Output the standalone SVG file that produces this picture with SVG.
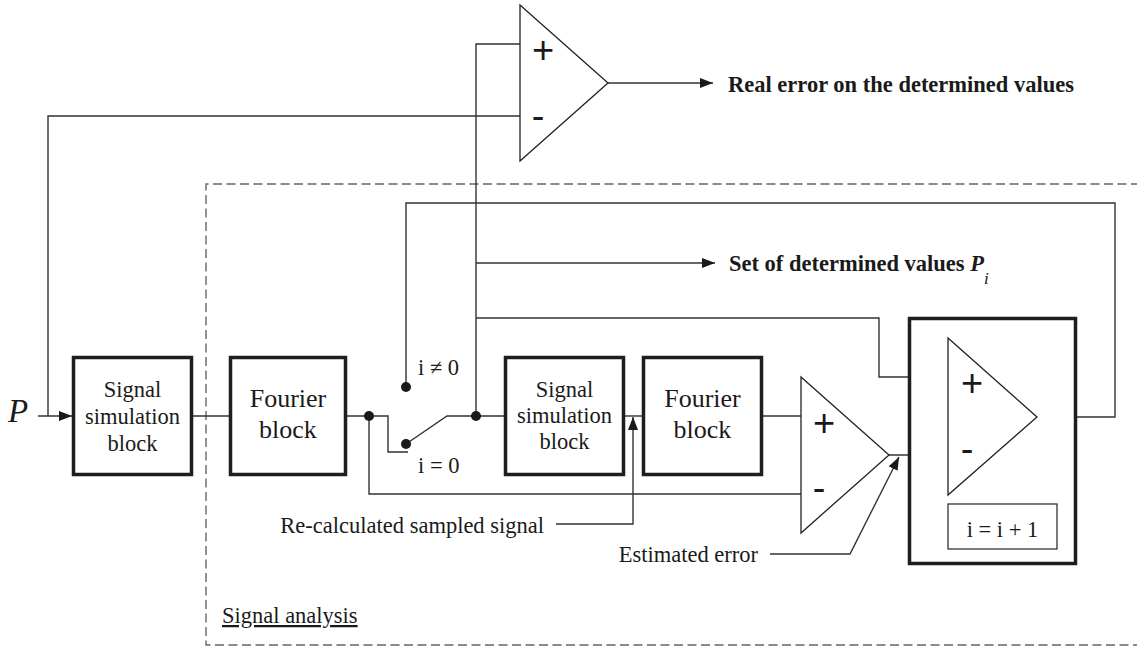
<svg xmlns="http://www.w3.org/2000/svg" width="1137" height="648" viewBox="0 0 1137 648">
<style>
  .ln{fill:none;stroke:#333;stroke-width:1.4}
  .blk{fill:#fff;stroke:#1e1e1e;stroke-width:3.5}
  .tri{fill:#fff;stroke:#222;stroke-width:1.3}
  .dash{fill:none;stroke:#666;stroke-width:1.4;stroke-dasharray:9 4.5}
  .t{font-family:"Liberation Serif","Times New Roman",serif;font-size:22.5px;fill:#1a1a1a}
  .c{text-anchor:middle}
  .b{font-weight:bold}
  .f{font-size:26px}
  .pm{font-family:"Liberation Sans",Arial,sans-serif;font-size:38px;fill:#1a1a1a;text-anchor:middle}
  .dot{fill:#1a1a1a}
</style>
<defs>
  <marker id="ah" markerUnits="userSpaceOnUse" markerWidth="13" markerHeight="10" refX="13" refY="5" orient="auto">
    <path d="M0,0 L13,5 L0,10 z" fill="#1a1a1a"/>
  </marker>
</defs>
<rect width="1137" height="648" fill="#fff"/>

<g id="signal-analysis-frame">
  <path class="dash" d="M1140,184 H206 V645 H1140"/>
  <text class="t" x="222" y="623" text-decoration="underline">Signal analysis</text>
</g>

<g id="connectors">
  <path class="ln" d="M48,416 V116 H520"/>
  <path class="ln" d="M38,416 H72" marker-end="url(#ah)"/>
  <path class="ln" d="M191,416 H230"/>
  <path class="ln" d="M346,416 H388 V452 H408"/>
  <path class="ln" d="M406,444 L447,416 H505"/>
  <path class="ln" d="M369,416 V494 H801"/>
  <path class="ln" d="M476,416 V44 H520"/>
  <path class="ln" d="M476,263 H715" marker-end="url(#ah)"/>
  <path class="ln" d="M476,318 H879 V377 H948"/>
  <path class="ln" d="M406,387 V203 H1115 V417 H1037"/>
  <path class="ln" d="M608,83 H713" marker-end="url(#ah)"/>
  <path class="ln" d="M624,416 H643"/>
  <path class="ln" d="M762,416 H801"/>
  <path class="ln" d="M889,455 H948"/>
  <path class="ln" d="M556,524 H633 V417" marker-end="url(#ah)"/>
  <path class="ln" d="M770,554 H850 L899,457" marker-end="url(#ah)"/>
  <circle class="dot" cx="369" cy="416" r="5"/>
  <circle class="dot" cx="476" cy="416" r="5"/>
  <circle class="dot" cx="406" cy="387" r="5"/>
  <circle class="dot" cx="406" cy="444" r="5"/>
</g>

<g id="input-P">
  <text class="t" x="8" y="422" font-style="italic" style="font-size:33px">P</text>
</g>

<g id="signal-sim-1">
  <rect class="blk" x="73.5" y="357.5" width="118" height="117"/>
  <text class="t c" x="132.5" y="397">Signal</text>
  <text class="t c" x="132.5" y="424">simulation</text>
  <text class="t c" x="132.5" y="451">block</text>
</g>

<g id="fourier-1">
  <rect class="blk" x="230.5" y="357.5" width="115" height="117"/>
  <text class="t c f" x="288" y="407">Fourier</text>
  <text class="t c f" x="288" y="438">block</text>
</g>

<g id="switch-labels">
  <text class="t" x="418" y="375">i ≠ 0</text>
  <text class="t" x="418" y="473">i = 0</text>
</g>

<g id="signal-sim-2">
  <rect class="blk" x="505.5" y="357.5" width="118" height="117"/>
  <text class="t c" x="564.5" y="397">Signal</text>
  <text class="t c" x="564.5" y="423">simulation</text>
  <text class="t c" x="564.5" y="449">block</text>
</g>

<g id="fourier-2">
  <rect class="blk" x="643.5" y="357.5" width="118" height="117"/>
  <text class="t c f" x="702.5" y="407">Fourier</text>
  <text class="t c f" x="702.5" y="438">block</text>
</g>

<g id="comparator-top">
  <path class="tri" d="M520,5 L608,83 L520,161 Z"/>
  <text class="pm" x="543" y="63">+</text>
  <text class="pm" x="538" y="129">-</text>
</g>

<g id="comparator-estimated">
  <path class="tri" d="M801,377 L889,455 L801,533 Z"/>
  <text class="pm" x="824" y="436">+</text>
  <text class="pm" x="819" y="501">-</text>
</g>

<g id="iteration-block">
  <rect class="blk" x="909.5" y="318.5" width="166" height="245"/>
  <path class="tri" d="M948,338 L1037,417 L948,495 Z"/>
  <text class="pm" x="972" y="396">+</text>
  <text class="pm" x="967" y="462">-</text>
  <rect x="948" y="504" width="109" height="45" fill="#fff" stroke="#333" stroke-width="1.3"/>
  <text class="t c" x="1002.5" y="537">i = i + 1</text>
</g>

<g id="labels">
  <text class="t b" x="728" y="92">Real error on the determined values</text>
  <text class="t b" x="729" y="271">Set of determined values <tspan font-style="italic">P</tspan><tspan font-style="italic" font-weight="normal" dy="13" style="font-size:17px">i</tspan></text>
  <text class="t" x="544" y="533" text-anchor="end">Re-calculated sampled signal</text>
  <text class="t" x="758" y="562" text-anchor="end">Estimated error</text>
</g>
</svg>
